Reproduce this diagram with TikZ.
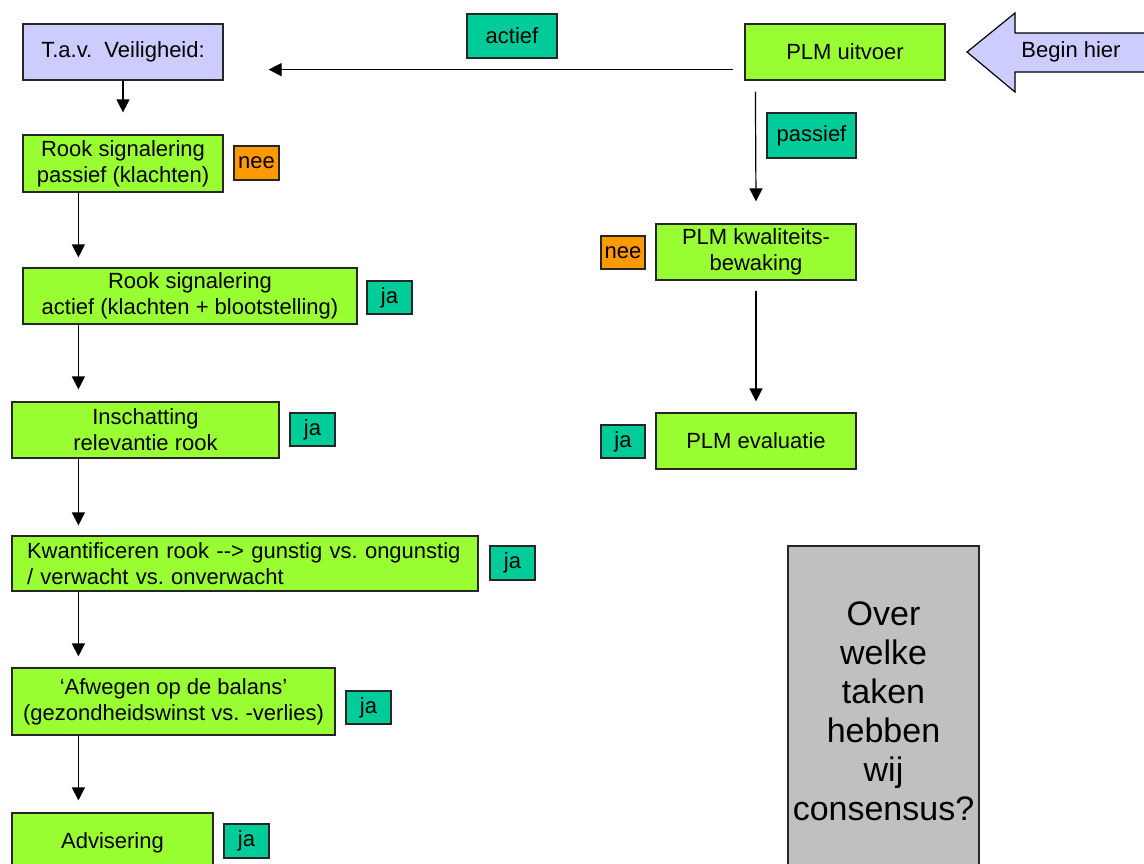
\documentclass[tikz,border=0pt]{standalone}
\usepackage{fontspec}
\setmainfont{Liberation Sans}
\usetikzlibrary{arrows.meta,calc}
\frenchspacing
\definecolor{gfill}{HTML}{99FF33}
\definecolor{tfill}{HTML}{00CC99}
\definecolor{ofill}{HTML}{FF9900}
\definecolor{lfill}{HTML}{CCCCFF}
\definecolor{grfill}{HTML}{C0C0C0}
\begin{document}
\begin{tikzpicture}[x=0.5pt,y=-0.5pt,
  box/.style={draw=black!85,line width=0.6pt,inner sep=0pt,align=center,font=\fontsize{11}{13}\selectfont},
  gbox/.style={box,fill=gfill},
  tbox/.style={box,fill=tfill},
  obox/.style={box,fill=ofill},
  arr/.style={line width=0.6pt,-{Triangle[length=6.5pt,width=6.5pt]}}]
\clip (0,0) rectangle (1144,863);
\fill[white] (0,0) rectangle (1144,863);
% top row
\node[box,fill=lfill,minimum width=100pt,minimum height=28pt] (tav) at (123,52) {T.a.v.\ \ Veiligheid:};
\node[gbox,minimum width=100pt,minimum height=28pt] (plm) at (845,52) {PLM uitvoer};
\node[tbox,minimum width=45pt,minimum height=22pt] (actief) at (512,36) {actief};
\node[tbox,minimum width=44.5pt,minimum height=22.5pt] (passief) at (811.5,135.5) {passief};
% begin hier arrow
\draw[line width=0.6pt,fill=lfill] (967,52) -- (1015,13) -- (1015,33) -- (1160,33) -- (1160,72) -- (1015,72) -- (1015,92) -- cycle;
\node[font=\fontsize{11}{13}\selectfont] (begin) at (1071,52) {Begin hier};
% right column
\node[gbox,minimum width=100pt,minimum height=28pt] (kwal) at (756,252) {PLM kwaliteits-\\bewaking};
\node[gbox,minimum width=100pt,minimum height=28pt] (eval) at (756,441) {PLM evaluatie};
\node[obox,minimum width=22pt,minimum height=16.5pt] (nee2) at (623,252.5) {nee};
\node[tbox,minimum width=22pt,minimum height=16.5pt] (ja2) at (623,441.5) {ja};
% left column
\node[gbox,minimum width=100pt,minimum height=28.5pt] (r1) at (123,163.5) {Rook signalering\\passief (klachten)};
\node[obox,minimum width=22.5pt,minimum height=17pt] (nee1) at (256.5,163) {nee};
\node[gbox,minimum width=167pt,minimum height=28pt] (r2) at (190,296) {Rook signalering\\actief (klachten + blootstelling)};
\node[tbox,minimum width=22.5pt,minimum height=16.5pt] (ja3) at (389.5,297.5) {ja};
\node[gbox,minimum width=133.5pt,minimum height=28pt] (r3) at (145.5,430) {Inschatting\\relevantie rook};
\node[tbox,minimum width=22.5pt,minimum height=16.5pt] (ja4) at (312.5,429.5) {ja};
\node[gbox,text width=218pt,inner xsep=7.5pt,align=left,minimum height=27.5pt] (r4) at (245,563.5) {Kwantificeren rook {-}{-}> gunstig vs. ongunstig\\/ verwacht vs. onverwacht};
\node[tbox,minimum width=22.5pt,minimum height=17pt] (ja5) at (512.5,563) {ja};
\node[gbox,minimum width=161.5pt,minimum height=33.5pt] (r5) at (173.5,701.5) {‘Afwegen op de balans’\\(gezondheidswinst vs. -verlies)};
\node[tbox,minimum width=22.5pt,minimum height=16.5pt] (ja6) at (368.5,707.5) {ja};
\node[gbox,minimum width=100.5pt,minimum height=30pt] (r6) at (112.5,843) {Advisering};
\node[tbox,minimum width=22.5pt,minimum height=17pt] (ja7) at (246.5,841) {ja};
% consensus
\node[box,fill=grfill,minimum width=95.5pt,minimum height=165pt,font=\fontsize{17}{19.5}\selectfont] (cons) at (883.5,711) {Over\\welke\\taken\\hebben\\wij\\consensus?};
% connectors
\draw[arr] ($(plm.south west)+(-11,-11)$) -- ($(tav.south east)+(45,-11)$);
\draw[arr] (tav.south) -- ($(r1.north)+(0,-22)$);
\draw[arr] ($(r1.south west)+(56,0)$) -- ($(r2.north west)+(56,-10)$);
\draw[arr] ($(r2.south west)+(56,0)$) -- ($(r3.north west)+(67,-12)$);
\draw[arr] ($(r3.south west)+(67,0)$) -- ($(r4.north west)+(67,-10)$);
\draw[arr] ($(r4.south west)+(67,0)$) -- ($(r5.north west)+(67,-11)$);
\draw[arr] ($(r5.south west)+(67,0)$) -- ($(r6.north west)+(67,-12)$);
\draw[arr] ($(plm.south west)+(11,11)$) -- ($(kwal.north)+(0,-22)$);
\draw[arr] ($(kwal.south)+(0,10)$) -- ($(eval.north)+(0,-11)$);
\end{tikzpicture}
\end{document}
